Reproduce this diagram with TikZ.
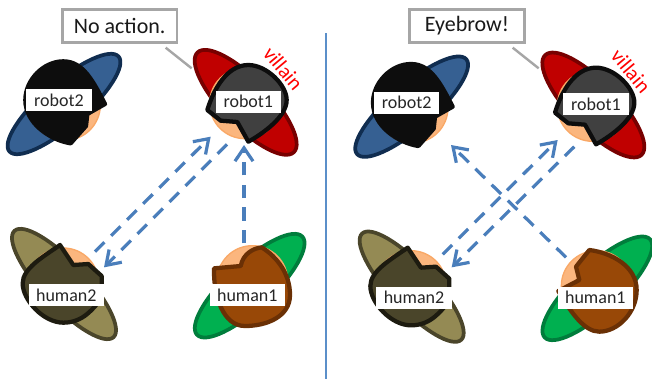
\documentclass[tikz,border=0pt]{standalone}
\usepackage{fontspec}
\setmainfont{Carlito}
\usetikzlibrary{arrows.meta}
\definecolor{skin}{HTML}{FBB67E}
\definecolor{skinedge}{HTML}{F9A866}
\definecolor{flow}{HTML}{4A7EBB}
\definecolor{callout}{HTML}{A6A6A6}
\tikzset{
  x=0.25pt,y=-0.25pt,
  body/.style={line width=2.8pt},
  head/.style={fill=skin,draw=skinedge,line width=1pt},
  hair/.style={line width=3.2pt,line join=round},
  tag/.style={fill=white,inner sep=0pt,minimum height=16.5pt,font=\fontsize{13.5}{15}\selectfont,text=black!85},
  robottag/.style={tag,minimum width=49pt},
  humantag/.style={tag,minimum width=56.5pt},
  bubble/.style={draw=callout,line width=2pt,fill=white,inner sep=0pt,minimum height=24.5pt,font=\fontsize{16.5}{19}\selectfont,text=black!90},
  tail/.style={draw=callout,line width=1.8pt},
  gaze/.style={draw=flow,line width=2.4pt,dash pattern=on 10pt off 7pt,
    -{Straight Barb[length=10pt,width=13.5pt,line width=2.4pt]}},
  role/.style={text=red,font=\fontsize{15.5}{18}\selectfont,inner sep=0pt},
}
% Figures are drawn in a fine grid and placed by the scope shift of each panel.
\newcommand{\robotone}{%
  \draw[body,fill={rgb,255:red,192;green,0;blue,0},draw={rgb,255:red,120;green,0;blue,0},rotate around={-46:(737,307)}]
    (737,307) ellipse [x radius=208,y radius=70];
  \draw[head] (735,310) circle [radius=106];
  \draw[hair,fill=black!75,draw=black!95]
    (622,330) .. controls (640,270) and (680,195) .. (745,195)
    .. controls (800,195) and (860,255) .. (860,300)
    .. controls (860,350) and (790,400) .. (745,425)
    -- (712,366) -- (662,362) -- cycle;
  \node[robottag] (robotone) at (745,305) {robot1};
}
\newcommand{\robottwo}{%
  \draw[body,fill={rgb,255:red,54;green,96;blue,146},draw={rgb,255:red,16;green,45;blue,80},rotate around={41:(192,312)}]
    (192,312) ellipse [x radius=217,y radius=65];
  \draw[head] (195,315) circle [radius=106];
  \draw[hair,fill=black!95,draw=black!95]
    (315,312) .. controls (280,245) and (250,184) .. (190,184)
    .. controls (130,184) and (76,240) .. (76,300)
    .. controls (76,370) and (150,420) .. (212,430)
    -- (258,378) -- (262,342) -- cycle;
  \node[robottag] (robottwo) at (177,300) {robot2};
}
\newcommand{\humantwo}{%
  \draw[body,fill={rgb,255:red,148;green,138;blue,84},draw={rgb,255:red,74;green,69;blue,42},rotate around={-47:(192,852)}]
    (192,852) ellipse [x radius=218,y radius=65];
  \draw[head] (190,850) circle [radius=106];
  \draw[hair,fill={rgb,255:red,74;green,69;blue,42},draw={rgb,255:red,29;green,27;blue,16}]
    (180,735) .. controls (130,770) and (68,805) .. (68,850)
    .. controls (68,900) and (130,968) .. (190,968)
    .. controls (250,968) and (280,925) .. (305,895)
    -- (305,828) -- (265,792) -- (220,795) -- cycle;
  \node[humantag] (humantwo) at (199,885) {human2};
}
\begin{document}
\begin{tikzpicture}
  \useasboundingbox[fill=white] (0,0) rectangle (1956,1137);

  % Panel divider
  \coordinate (dividertop) at (978,100);
  \coordinate (dividerbottom) at (978,1137);
  \draw[draw={rgb,255:red,91;green,143;blue,201},line width=0.8pt] (dividertop) -- (dividerbottom);

  % Left panel: nobody signals
  \begin{scope}[name prefix=left-]
    \robotone \robottwo \humantwo
    \draw[body,fill={rgb,255:red,0;green,176;blue,80},draw={rgb,255:red,0;green,125;blue,60},rotate around={43:(749,857)}]
      (749,857) ellipse [x radius=216,y radius=68];
    \draw[head] (757,843) circle [radius=106];
    \draw[hair,fill={rgb,255:red,152;green,72;blue,7},draw={rgb,255:red,106;green,48;blue,5}]
      (642,805) .. controls (640,890) and (670,978) .. (735,978)
      .. controls (800,978) and (870,950) .. (870,885)
      .. controls (870,820) and (830,770) .. (785,742)
      .. controls (760,745) and (730,760) .. (722,798) -- cycle;
    \node[humantag] (humanone) at (742,885) {human1};

    \node[role,rotate=-50] (villain) at (850,205) {villain};
    \node[bubble,minimum width=86pt] (say) at (359,78) {No action.};
    \coordinate (sayfoot) at (497,143);
    \coordinate (sayhead) at (575,205);
    \draw[tail] (sayfoot) -- (sayhead);

    \coordinate (a1) at (285,755);
    \coordinate (a2) at (632,410);
    \coordinate (b1) at (681,433);
    \coordinate (b2) at (312,802);
    \coordinate (c1) at (732,730);
    \coordinate (c2) at (732,435);
    \draw[gaze] (a1) -- (a2);
    \draw[gaze] (b1) -- (b2);
    \draw[gaze] (c1) -- (c2);
  \end{scope}

  % Right panel: the villain raises an eyebrow
  \begin{scope}[name prefix=right-]
    \begin{scope}[shift={(1043,8)}]
      \robotone \robottwo \humantwo
      \draw[body,fill={rgb,255:red,0;green,176;blue,80},draw={rgb,255:red,0;green,125;blue,60},rotate around={43:(749,857)}]
        (749,857) ellipse [x radius=216,y radius=68];
      \draw[head] (747,850) circle [radius=106];
      \draw[hair,fill={rgb,255:red,152;green,72;blue,7},draw={rgb,255:red,106;green,48;blue,5}]
        (632,865) .. controls (670,930) and (710,987) .. (755,987)
        .. controls (810,987) and (867,930) .. (867,862)
        .. controls (867,790) and (790,750) .. (725,742)
        -- (685,792) -- (695,832) -- cycle;
      \node[humantag] (humanone) at (743,885) {human1};
      \node[role,rotate=-50] (villain) at (850,205) {villain};
    \end{scope}
    \node[bubble,minimum width=86pt] (say) at (1401,78) {Eyebrow!};
    \coordinate (sayfoot) at (1538,143);
    \coordinate (sayhead) at (1616,205);
    \draw[tail] (sayfoot) -- (sayhead);

    \coordinate (a1) at (1328,763);
    \coordinate (a2) at (1673,420);
    \coordinate (b1) at (1723,440);
    \coordinate (b2) at (1355,802);
    \coordinate (c1) at (1698,772);
    \coordinate (c2) at (1353,435);
    \draw[gaze] (a1) -- (a2);
    \draw[gaze] (b1) -- (b2);
    \draw[gaze] (c1) -- (c2);
  \end{scope}
\end{tikzpicture}
\end{document}
